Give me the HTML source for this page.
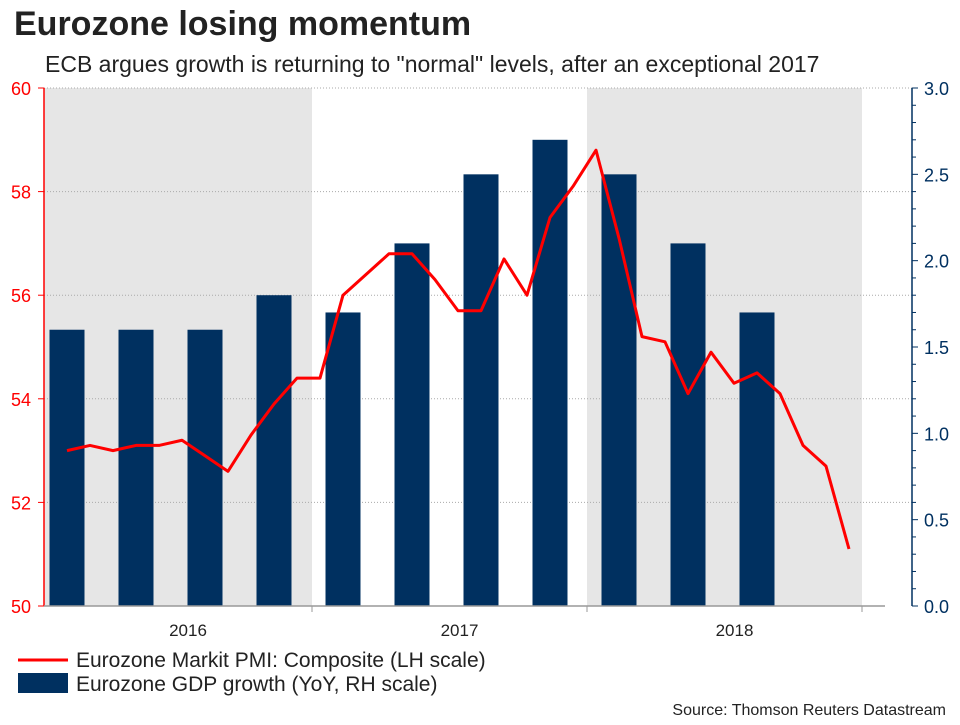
<!DOCTYPE html>
<html><head><meta charset="utf-8"><style>
body{margin:0;background:#fff;font-family:"Liberation Sans",Arial,sans-serif;}
</style></head><body>
<svg width="960" height="720" xmlns="http://www.w3.org/2000/svg">
<text x="14" y="35" font-size="34" font-weight="bold" fill="#222">Eurozone losing momentum</text>
<text x="45" y="72" font-size="23" fill="#222">ECB argues growth is returning to "normal" levels, after an exceptional 2017</text>
<g id="bg"></g><g id="grid"></g><g id="bars"></g><g id="line"></g><g id="axes"></g>
<g>
<line x1="18" y1="660" x2="68" y2="660" stroke="#f00" stroke-width="3"/>
<text x="76" y="667" font-size="21" fill="#222">Eurozone Markit PMI: Composite (LH scale)</text>
<rect x="18" y="673" width="50" height="20" fill="#003060"/>
<text x="76" y="691" font-size="21" fill="#222">Eurozone GDP growth (YoY, RH scale)</text>
</g>
<text x="946" y="715" font-size="16" fill="#222" text-anchor="end">Source: Thomson Reuters Datastream</text>
</svg>
<script>
const years=["2016","2017","2018"];
const gdp=[1.6,1.6,1.6,1.8,1.7,2.1,2.5,2.7,2.5,2.1,1.7];
const pmi=[53.0,53.1,53.0,53.1,53.1,53.2,52.9,52.6,53.3,53.9,54.4,54.4,56.0,56.4,56.8,56.8,56.3,55.7,55.7,56.7,56.0,57.5,58.1,58.8,57.1,55.2,55.1,54.1,54.9,54.3,54.5,54.1,53.1,52.7,51.1];
const leftTicks=[50,52,54,56,58,60];
const rightTicks=[0,0.5,1.0,1.5,2.0,2.5,3.0];
const NS="http://www.w3.org/2000/svg";
const X0=44,X1=885,Y0=606,Y1=88;
const yL=v=>Y0-(v-50)/10*(Y0-Y1);
const yR=v=>Y0-v/3*(Y0-Y1);
const xm=i=>67+23*i;
const bounds=[44,312,587,862];
function mk(p,tag,a){const e=document.createElementNS(NS,tag);for(const k in a)e.setAttribute(k,a[k]);document.getElementById(p).appendChild(e);return e;}
years.forEach((y,k)=>{
 if(k!==1){const r=mk('bg','rect',{x:bounds[k],y:Y1,width:bounds[k+1]-bounds[k],height:Y0-Y1,fill:'#e6e6e6'});
 
 }
 const t=mk('axes','text',{x:(bounds[k]+bounds[k+1])/2+10,y:636,'font-size':17,fill:'#222','text-anchor':'middle'});t.textContent=y;
 
 
});
leftTicks.forEach(v=>{
 if(v>50){const g=mk('grid','line',{x1:X0,x2:912,y1:yL(v),y2:yL(v),stroke:'#aaa','stroke-dasharray':'1,2'});
 
 }
 mk('axes','line',{x1:38,x2:44,y1:yL(v),y2:yL(v),stroke:'#f00'});
 const t=mk('axes','text',{x:31,y:yL(v)+7,'font-size':18,fill:'#f00','text-anchor':'end'});t.textContent=v;
 
 
});
for(let i=0;i<=30;i++){mk('axes','line',{x1:912,x2:(i%5==0?918:916),y1:yR(i/10),y2:yR(i/10),stroke:'#003060'});}
rightTicks.forEach(v=>{
 const t=mk('axes','text',{x:924,y:yR(v)+7,'font-size':18,fill:'#003060'});t.textContent=v.toFixed(1);
 
 
});
mk('axes','line',{x1:44,x2:44,y1:Y1,y2:Y0,stroke:'#f00','stroke-width':1.5});
mk('axes','line',{x1:912,x2:912,y1:Y1,y2:Y0,stroke:'#003060','stroke-width':1.5});
mk('axes','line',{x1:44,x2:X1,y1:Y0,y2:Y0,stroke:'#999','stroke-width':1.5});
[312,587,862].forEach(x=>mk('axes','line',{x1:x,x2:x,y1:Y0,y2:Y0+6,stroke:'#999'}));
gdp.forEach((v,i)=>{
 const cx=xm(3*i);
 const b=mk('bars','rect',{x:cx-17.5,y:yR(v),width:35,height:Y0-yR(v),fill:'#003060'});
 
 
});
const pl=mk('line','polyline',{points:pmi.map((v,i)=>xm(i)+','+yL(v)).join(' '),fill:'none',stroke:'#f00','stroke-width':3,'stroke-linejoin':'round'});


</script>
</body></html>
